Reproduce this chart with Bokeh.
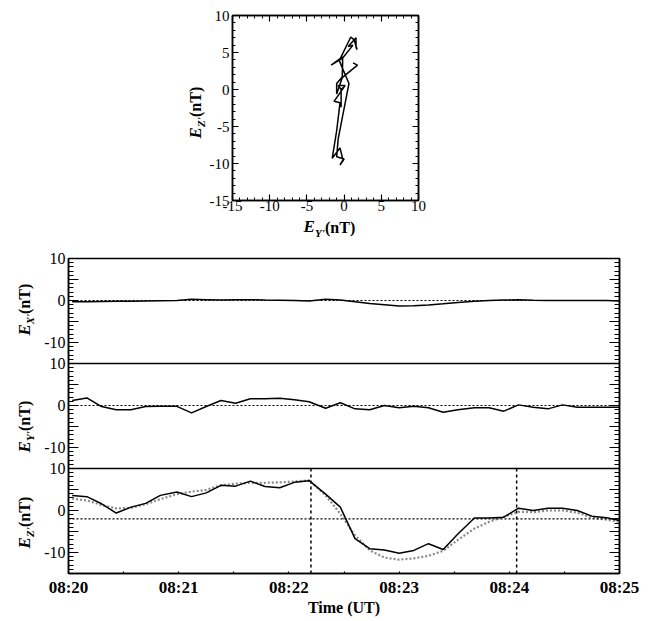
import math
from bokeh.plotting import figure
from bokeh.models import Range1d, LinearAxis, FixedTicker, Span, Label, Spacer, Title
from bokeh.layouts import column, row
from bokeh.embed import file_html
from bokeh.resources import INLINE

FONT = "Liberation Serif"

# ---------------- data ----------------
# sample times, seconds after 08:20:00
t_sec = [2, 10, 18, 26, 34, 42, 50, 59, 67, 75, 83, 91, 99, 107, 115, 123, 131, 140, 148,
         156, 164, 172, 180, 188, 196, 204, 212, 221, 229, 237, 245, 253, 261, 269, 277, 285, 293, 300]
ex = [-0.3, -0.3, -0.25, -0.2, -0.15, -0.1, -0.05, 0.0, 0.3, 0.2, 0.1, 0.2, 0.2, 0.1, 0.05, 0.0,
      -0.1, 0.3, 0.1, -0.3, -0.7, -1.0, -1.3, -1.25, -1.05, -0.8, -0.45, -0.15, 0.0, 0.1, 0.15,
      0.05, 0.0, 0.0, 0.0, 0.0, 0.0, -0.1]
ey = [1.2, 1.8, -0.25, -1.0, -1.0, -0.25, -0.2, -0.2, -1.75, -0.25, 1.2, 0.55, 1.6, 1.6, 1.75,
      1.35, 0.9, -0.65, 0.65, -0.8, -1.0, 0.0, -0.55, -0.15, -0.55, -1.6, -1.0, -0.55, -0.55,
      -1.35, 0.15, -0.4, -0.8, 0.15, -0.4, -0.4, -0.4, -0.4]
ez = [3.6, 3.3, 1.6, -0.6, 0.8, 1.7, 3.6, 4.4, 3.3, 4.2, 6.0, 5.8, 7.0, 5.7, 5.4, 6.7, 7.1, 3.9,
      0.8, -6.7, -9.1, -9.4, -10.2, -9.5, -7.9, -9.3, -5.6, -1.8, -1.8, -1.6, 0.55, 0.0, 0.55,
      0.55, 0.0, -1.35, -1.75, -2.4]
ez_fit = [2.8, 2.4, 1.3, 0.5, 0.6, 1.5, 2.7, 3.9, 4.5, 4.9, 6.0, 6.4, 6.6, 6.6, 6.7, 6.9, 7.2,
          3.6, -0.8, -5.9, -9.5, -11.2, -11.7, -11.4, -10.8, -9.6, -7.0, -4.3, -2.7, -1.5, -0.3,
          -0.4, 0.0, 0.0, -0.5, -1.7, -2.2, -2.7]
event_sec = [132, 244]          # vertical dashed lines
ref_levels = {"ex": 0.0, "ey": 0.0, "ez": -2.0}   # dotted horizontal lines
x_tick_labels = ["08:20", "08:21", "08:22", "08:23", "08:24", "08:25"]
y_label_values = [-10, 0, 10]
hodo_ticks = [-15, -10, -5, 0, 5, 10]
hodo_tick_labels = ["-15", "-10", "-5", "0", "5", "10"]

t_min = [20 + s / 60 for s in t_sec]
ev_min = [20 + s / 60 for s in event_sec]

PANEL_LO, PANEL_HI = -15, 10
SPAN = PANEL_HI - PANEL_LO

# page geometry (pixels)
ROW_A_H = 218        # hodogram row
ROW_B_H = 28         # hodogram x-label row
TOP_C = ROW_A_H + ROW_B_H
LAB_W = 36           # width of the label strip left of the time series
TS_BL = 32
TS_H = 12 + 315 + 44
V_SHIFT = 12         # correction for rotated label placement


def style_axis(ax, ticks, minor, show_labels, tick_in, minor_in, bold=False, size="16px"):
    ax.ticker = FixedTicker(ticks=ticks, minor_ticks=minor)
    ax.major_tick_in = tick_in
    ax.major_tick_out = 0
    ax.minor_tick_in = minor_in
    ax.minor_tick_out = 0
    ax.axis_line_color = "black"
    ax.axis_line_width = 1.5
    ax.major_tick_line_color = "black"
    ax.minor_tick_line_color = "black"
    ax.major_tick_line_width = 1.2
    ax.minor_tick_line_width = 1.0
    ax.major_label_text_font = FONT
    ax.major_label_text_color = "black"
    ax.major_label_text_font_style = "bold" if bold else "normal"
    if show_labels:
        ax.major_label_text_font_size = size
        ax.major_label_standoff = 3
    else:
        ax.major_label_text_font_size = "0px"
        ax.major_label_standoff = 0


def label_strip(x0, x1, y0, y1):
    # blank figure (no title, no axes) whose data coordinates equal page pixels (y downwards)
    f = figure(title=None, frame_width=x1 - x0, frame_height=y1 - y0, x_range=Range1d(x0, x1),
               y_range=Range1d(y1, y0), min_border=0, x_axis_location=None, y_axis_location=None,
               output_backend="svg", toolbar_location=None)
    f.grid.visible = False
    f.outline_line_color = None
    f.background_fill_color = None
    f.border_fill_color = None
    return f


def compose_label(fig, x, y, sub, vertical):
    # E (bold italic) + subscript (bold italic) + (nT) (bold)
    # x, y: start of the baseline; every piece is anchored at its own centre
    pieces = [("E", 17, "bold italic", 0, 11.3),
              (sub, 11, "bold italic", 4, 10.2),
              ("(nT)", 16, "bold", 0, 30.2)]
    adv = 0.0
    for txt, size, style, drop, w in pieces:
        along = adv + w / 2
        across = drop - 0.34 * size       # + = below the baseline
        if vertical:
            xo, yo, ang = across, along + V_SHIFT, math.pi / 2
        else:
            xo, yo, ang = along, -across, 0
        fig.add_layout(Label(x=x, y=y, x_offset=xo, y_offset=yo, text=txt, angle=ang,
                             text_font=FONT, text_font_size=f"{size}px", text_font_style=style,
                             text_align="center", text_baseline="middle", text_color="black"))
        adv += w


# ---------------- hodogram ----------------
h = figure(title=None, frame_width=186, frame_height=185, x_range=Range1d(-15, 10),
           y_range=Range1d(-15, 10),
           min_border_left=24, min_border_right=20, min_border_top=15,
           min_border_bottom=ROW_A_H - 200,
           output_backend="svg", toolbar_location=None)
h.grid.visible = False
h.outline_line_color = "black"
h.outline_line_width = 1.5
hminor = [v for v in range(-15, 11)]
style_axis(h.xaxis[0], hodo_ticks, hminor, True, 6, 3, size="15px")
style_axis(h.yaxis[0], hodo_ticks, hminor, True, 6, 3, size="15px")
h.xaxis[0].major_label_standoff = 0
hover = dict(zip(hodo_ticks, hodo_tick_labels))
h.xaxis[0].major_label_overrides = hover
h.yaxis[0].major_label_overrides = hover
top_ax = LinearAxis()
right_ax = LinearAxis()
style_axis(top_ax, hodo_ticks, hminor, False, 6, 3)
style_axis(right_ax, hodo_ticks, hminor, False, 6, 3)
h.add_layout(top_ax, "above")
h.add_layout(right_ax, "right")
h.line(ey, ez, line_color="black", line_width=1.5)

hy_lab = label_strip(180, 206, 0, ROW_A_H)
compose_label(hy_lab, 200.5, 135, "Z'", vertical=True)
hx_lab = label_strip(290, 380, ROW_A_H, TOP_C)
compose_label(hx_lab, 303, 232, "Y'", vertical=False)

# ---------------- stacked time series ----------------
# main range holds the Ez panel at the bottom third; extra ranges shift Ey and Ex panels up
p = figure(title=None, frame_width=551, frame_height=315, x_range=Range1d(20, 25),
           y_range=Range1d(PANEL_LO, PANEL_LO + 3 * SPAN),
           min_border_left=TS_BL, min_border_right=30, min_border_top=12, min_border_bottom=44,
           output_backend="svg", toolbar_location=None)
p.extra_y_ranges = {
    "ey": Range1d(PANEL_LO - SPAN, PANEL_HI + SPAN),
    "ex": Range1d(PANEL_LO - 2 * SPAN, PANEL_HI),
}
p.grid.visible = False
p.outline_line_color = "black"
p.outline_line_width = 1.5

offsets = {"ez": 0, "ey": SPAN, "ex": 2 * SPAN}
major = list(range(PANEL_LO, PANEL_LO + 3 * SPAN + 1, 5))
minor = list(range(PANEL_LO, PANEL_LO + 3 * SPAN + 1))
overrides = {m: "" for m in major}
for off in offsets.values():
    for v in y_label_values:
        overrides[v + off] = str(v)

style_axis(p.yaxis[0], major, minor, True, 10, 5)
p.yaxis[0].major_label_overrides = overrides
ry = LinearAxis()
style_axis(ry, major, minor, False, 10, 5)
p.add_layout(ry, "right")

xt = [20 + 0.5 * i for i in range(11)]
style_axis(p.xaxis[0], xt, [], True, 2, 0, bold=True, size="17px")
p.xaxis[0].major_label_standoff = 4
p.xaxis[0].major_label_overrides = {**{v: "" for v in xt},
                                    **{20 + i: lab for i, lab in enumerate(x_tick_labels)}}
p.add_layout(Title(text="Time (UT)", align="center", offset=17, standoff=-6,
                   text_font=FONT, text_font_size="16px", text_font_style="bold",
                   text_color="black"), "below")

# panel separators
for k in (1, 2):
    p.add_layout(Span(location=PANEL_LO + k * SPAN, dimension="width", line_color="black", line_width=1.5))

# reference dotted levels
p.add_layout(Span(location=ref_levels["ex"], dimension="width", y_range_name="ex",
                  line_color="black", line_width=1.2, line_dash="2 2"))
p.add_layout(Span(location=ref_levels["ey"], dimension="width", y_range_name="ey",
                  line_color="black", line_width=1.2, line_dash="2 2"))
p.add_layout(Span(location=ref_levels["ez"], dimension="width",
                  line_color="black", line_width=1.2, line_dash="2 2"))

# event markers in Ez panel
p.segment(x0=ev_min, y0=[PANEL_LO] * len(ev_min), x1=ev_min, y1=[PANEL_HI] * len(ev_min),
          line_color="black", line_width=1.5, line_dash="3 3")

p.line(t_min, ex, y_range_name="ex", line_color="black", line_width=1.5)
p.line(t_min, ey, y_range_name="ey", line_color="black", line_width=1.5)
p.line(t_min, ez_fit, line_color="#8a8a8a", line_width=2.2, line_dash="2 2")
p.line(t_min, ez, line_color="black", line_width=1.5)

ts_lab = label_strip(0, LAB_W, TOP_C, TOP_C + TS_H)
compose_label(ts_lab, 29.5, 335, "X'", vertical=True)
compose_label(ts_lab, 29.5, 452, "Y'", vertical=True)
compose_label(ts_lab, 29.5, 548, "Z'", vertical=True)

layout = column(
    row(Spacer(width=180, height=ROW_A_H), hy_lab, h),
    row(Spacer(width=290, height=ROW_B_H), hx_lab),
    row(ts_lab, p),
)
open("out.html", "w").write(file_html(layout, INLINE))
